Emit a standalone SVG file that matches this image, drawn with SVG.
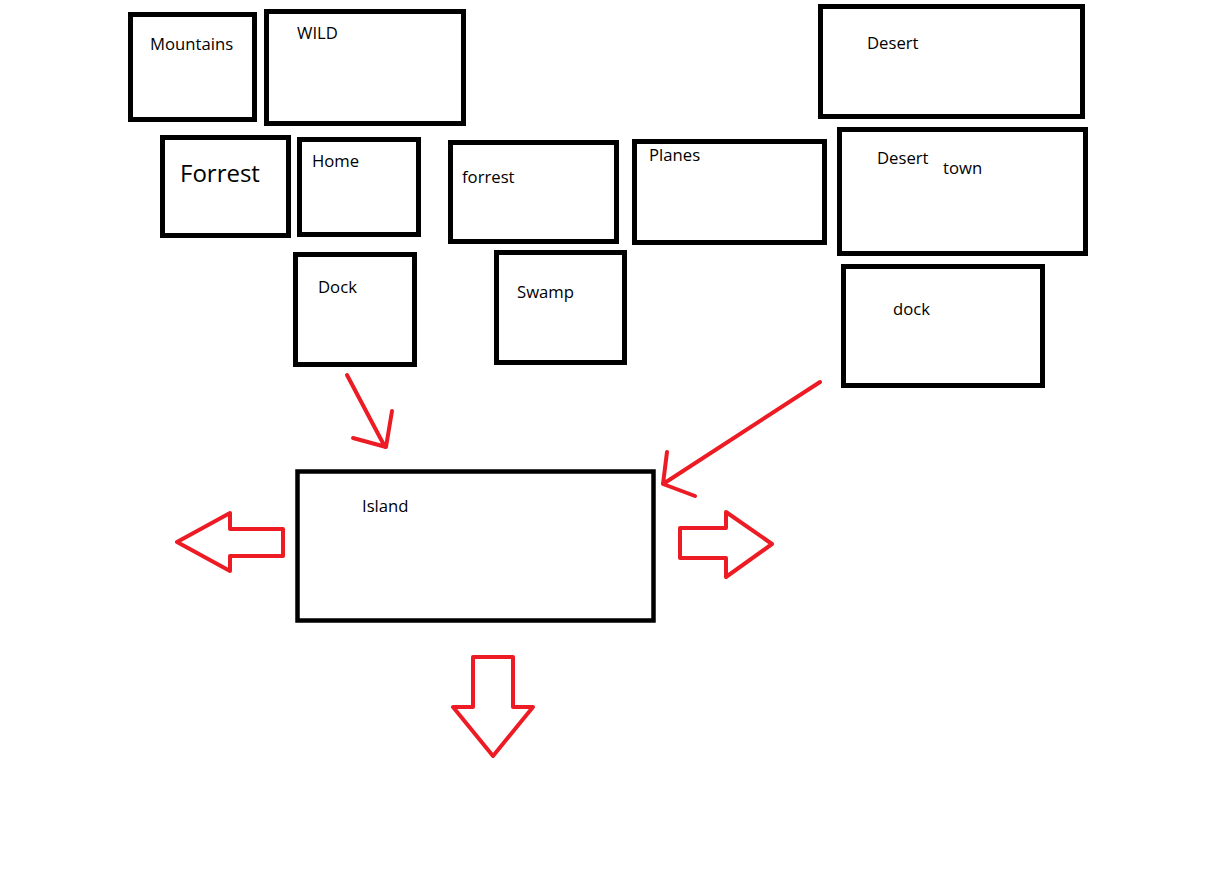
<svg xmlns="http://www.w3.org/2000/svg" width="1216" height="884" viewBox="0 0 1216 884">
<style>
.box{fill:#fff;stroke:#000;stroke-width:5}
.lbl{font-family:"Open Sans","Noto Sans",sans-serif;font-size:16.7px;fill:#000}
.big{font-size:24px}
.red{fill:none;stroke:#ED1C24;stroke-width:4;stroke-linecap:round;stroke-linejoin:round}
</style>
<rect width="1216" height="884" fill="#fff"/>
<g id="mountains"><rect class="box" x="130.5" y="14.5" width="124" height="105"/><text class="lbl" x="150" y="50">Mountains</text></g>
<g id="wild"><rect class="box" x="266.5" y="11.5" width="197" height="112"/><text class="lbl" x="297" y="39">WILD</text></g>
<g id="forrest-big"><rect class="box" x="162.5" y="137.5" width="126" height="98"/><text class="lbl big" x="180" y="182">Forrest</text></g>
<g id="home"><rect class="box" x="299.5" y="139.5" width="119" height="95"/><text class="lbl" x="312" y="167">Home</text></g>
<g id="forrest"><rect class="box" x="450.5" y="142.5" width="166" height="99"/><text class="lbl" x="462" y="183">forrest</text></g>
<g id="planes"><rect class="box" x="634.5" y="141.5" width="190" height="101"/><text class="lbl" x="649" y="161">Planes</text></g>
<g id="desert"><rect class="box" x="820.5" y="6.5" width="262" height="110"/><text class="lbl" x="867" y="49">Desert</text></g>
<g id="desert-town"><rect class="box" x="839.5" y="129.5" width="246" height="124"/><text class="lbl" x="877" y="164">Desert</text><text class="lbl" x="943" y="174">town</text></g>
<g id="dock-right"><rect class="box" x="843.5" y="266.5" width="199" height="119"/><text class="lbl" x="893" y="315">dock</text></g>
<g id="dock"><rect class="box" x="295.5" y="254.5" width="119" height="110"/><text class="lbl" x="318" y="293">Dock</text></g>
<g id="swamp"><rect class="box" x="496.5" y="252.5" width="128" height="110"/><text class="lbl" x="517" y="298">Swamp</text></g>
<g id="island"><rect class="box" x="297.5" y="471.5" width="356" height="149" style="stroke-width:4.5"/><text class="lbl" x="362" y="512">Island</text></g>
<g id="connectors">
<path class="red" d="M347,375 L385,447 M392,411 L386,447 L353,438"/>
<path class="red" d="M820,382 L663,484 M667,452 L663,484 L695,496"/>
<polygon class="red" points="177,542 230,513 230,529 283,529 283,556 230,556 230,571"/>
<polygon class="red" points="680,528 726,528 726,512 772,544 726,577 726,558 680,558"/>
<polygon class="red" points="473,657 513,657 513,707 533,707 493,756 453,707 473,707"/>
</g>
</svg>
